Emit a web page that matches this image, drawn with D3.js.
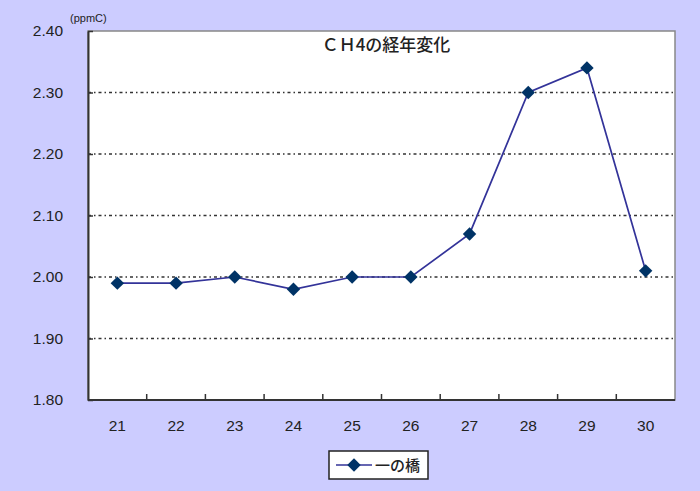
<!DOCTYPE html>
<html>
<head>
<meta charset="utf-8">
<script src="https://cdn.jsdelivr.net/npm/d3@7"></script>
<style>
  body { margin: 0; background: #ccccff; }
  svg text { font-family: "Liberation Sans", Arial, "Noto Sans CJK JP", sans-serif; fill: #222; }
</style>
</head>
<body>
<div id="chart"></div>
<script>
// data
var years = ["21", "22", "23", "24", "25", "26", "27", "28", "29", "30"];
var ch4 = [1.99, 1.99, 2.00, 1.98, 2.00, 2.00, 2.07, 2.30, 2.34, 2.01];
var yTicks = [1.80, 1.90, 2.00, 2.10, 2.20, 2.30, 2.40];
var seriesName = "一の橋";
var title = "ＣＨ4の経年変化";
var unit = "(ppmC)";

var width = 700, height = 491;
var margin = { top: 31, right: 25, bottom: 91, left: 88 };
var w = width - margin.left - margin.right,
    h = height - margin.top - margin.bottom;

var svg = d3.select("#chart").append("svg")
    .attr("width", width)
    .attr("height", height);

svg.append("rect")
    .attr("width", width).attr("height", height)
    .attr("fill", "#ccccff");

var g = svg.append("g")
    .attr("transform", "translate(" + margin.left + "," + margin.top + ")");

// scales
var x = d3.scaleBand().domain(years).range([0, w]);
var y = d3.scaleLinear().domain([1.80, 2.40]).range([h, 0]);

// plot area
g.append("rect")
    .attr("width", w).attr("height", h)
    .attr("fill", "#fff")
    .attr("stroke", "#888")
    .attr("stroke-width", 1.5);

// gridlines
g.selectAll(".grid")
    .data(yTicks.filter(function(d) { return d > 1.8 && d < 2.4; }))
    .enter().append("line")
    .attr("class", "grid")
    .attr("x1", 0).attr("x2", w)
    .attr("y1", function(d) { return y(d); })
    .attr("y2", function(d) { return y(d); })
    .attr("stroke", "#333")
    .attr("stroke-width", 1.3)
    .attr("stroke-dasharray", "3,3,1.5,3");

// y axis
var yAxis = d3.axisLeft(y)
    .tickValues(yTicks)
    .tickFormat(d3.format(".2f"))
    .tickSizeInner(-5)
    .tickSizeOuter(0)
    .tickPadding(25);

var yG = g.append("g").attr("class", "y-axis").call(yAxis);
yG.select(".domain").attr("stroke", "#333").attr("stroke-width", 2);
yG.selectAll(".tick line").attr("stroke", "#333").attr("stroke-width", 1.5);
yG.selectAll("text").attr("font-size", 15.5).attr("fill", "#1a1a1a")
    .style("font-weight", 500);

// x axis: ticks at category boundaries, labels at centres
var xAxis = d3.axisBottom(x).tickSize(0).tickPadding(20);
var xG = g.append("g").attr("class", "x-axis")
    .attr("transform", "translate(0," + h + ")")
    .call(xAxis);
xG.select(".domain").remove();
xG.selectAll("text").attr("font-size", 15.5).attr("fill", "#1a1a1a");

g.append("line")
    .attr("x1", 0).attr("x2", w)
    .attr("y1", h).attr("y2", h)
    .attr("stroke", "#333").attr("stroke-width", 2);

g.selectAll(".xtick")
    .data(years.slice(1))
    .enter().append("line")
    .attr("class", "xtick")
    .attr("x1", function(d) { return x(d); })
    .attr("x2", function(d) { return x(d); })
    .attr("y1", h).attr("y2", h - 6)
    .attr("stroke", "#333").attr("stroke-width", 1.5);

// line + markers
var line = d3.line()
    .x(function(d, i) { return x(years[i]) + x.bandwidth() / 2; })
    .y(function(d) { return y(d); });

g.append("path")
    .datum(ch4)
    .attr("d", line)
    .attr("fill", "none")
    .attr("stroke", "#333399")
    .attr("stroke-width", 1.7);

var diamond = d3.symbol().type(d3.symbolDiamond2).size(115);

g.selectAll(".pt")
    .data(ch4)
    .enter().append("path")
    .attr("class", "pt")
    .attr("d", diamond)
    .attr("transform", function(d, i) {
        return "translate(" + (x(years[i]) + x.bandwidth() / 2) + "," + y(d) + ")";
    })
    .attr("fill", "#003366");

// title and unit
g.append("text")
    .attr("x", 298).attr("y", 20)
    .attr("text-anchor", "middle")
    .attr("font-size", 17)
    .style("font-family", "'Noto Sans CJK JP', sans-serif")
    .style("font-weight", 500)
    .text(title);

svg.append("text")
    .attr("x", 70).attr("y", 22)
    .attr("font-size", 11)
    .text(unit);

// legend
var lg = svg.append("g").attr("transform", "translate(329,451)");
lg.append("rect")
    .attr("width", 99).attr("height", 28)
    .attr("fill", "#fff")
    .attr("stroke", "#222").attr("stroke-width", 1.5);
lg.append("line")
    .attr("x1", 7).attr("x2", 43)
    .attr("y1", 14).attr("y2", 14)
    .attr("stroke", "#333399").attr("stroke-width", 1.7);
lg.append("path")
    .attr("d", diamond)
    .attr("transform", "translate(25,14)")
    .attr("fill", "#003366");
lg.append("text")
    .attr("x", 46).attr("y", 20)
    .attr("font-size", 15)
    .style("font-family", "'Noto Sans CJK JP', sans-serif")
    .style("font-weight", 500)
    .text(seriesName);
</script>
</body>
</html>
